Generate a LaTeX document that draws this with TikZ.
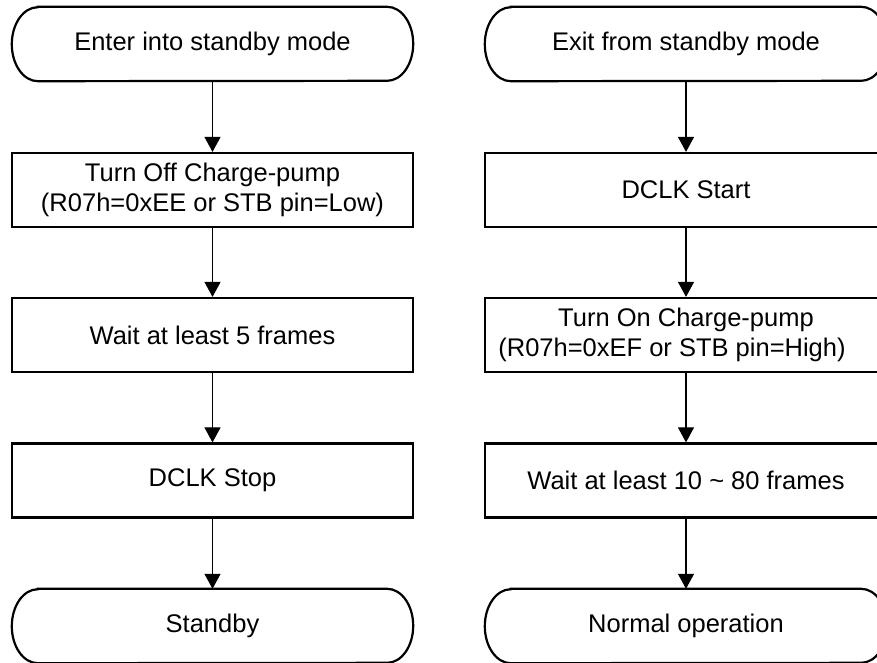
\documentclass[tikz,border=0pt]{standalone}
\usepackage{fontspec}
\setmainfont{Liberation Sans}
\usetikzlibrary{arrows.meta,positioning}
\tikzset{
  stepbox/.style={draw, line width=2.2pt, minimum width=401pt, minimum height=74pt, inner sep=0pt, align=center, font=\fontsize{25.5}{30.5}\selectfont},
  termnode/.style={minimum width=401pt, minimum height=74pt, inner sep=0pt, align=center, font=\fontsize{25.5}{30.5}\selectfont},
  flow/.style={line width=1.1pt, -{Triangle[length=15pt,width=16pt]}},
  termline/.style={line width=2.2pt}
}
\newcommand{\termshape}[1]{%
  \draw[termline] ([xshift=26pt]#1.north west) -- ([xshift=-26pt]#1.north east)
    arc[start angle=90,end angle=-90,x radius=26pt,y radius=37pt]
    -- ([xshift=26pt]#1.south west)
    arc[start angle=270,end angle=90,x radius=26pt,y radius=37pt] -- cycle;}
\begin{document}
\begin{tikzpicture}[x=1pt,y=-1pt]
\clip (0,0) rectangle (877,662);
\useasboundingbox (0,0) rectangle (877,662);
% left column
\node[termnode] (ls) at (212.5,44) {Enter into standby mode};
\termshape{ls}
\node[stepbox] (l1) at (212.5,190) {Turn Off Charge-pump\\(R07h=0xEE or STB pin=Low)};
\node[stepbox] (l2) at (212.5,335) {Wait at least 5 frames};
\node[stepbox] (l3) at (212.5,480.5) {DCLK Stop};
\node[termnode] (le) at (212.5,626) {Standby};
\termshape{le}
\draw[flow] (ls.south) -- (l1.north);
\draw[flow] (l1.south) -- (l2.north);
\draw[flow] (l2.south) -- (l3.north);
\draw[flow] (l3.south) -- (le.north);
% right column
\node[termnode, minimum width=402pt] (rs) at (686,44) {Exit from standby mode};
\termshape{rs}
\node[stepbox, minimum width=402pt] (r1) at (686,190) {DCLK Start};
\node[stepbox, minimum width=402pt] (r2) at (686,335) {Turn On Charge-pump\\\hspace*{-28pt}(R07h=0xEF or STB pin=High)};
\node[stepbox, minimum width=402pt] (r3) at (686,480.5) {Wait at least 10 \textasciitilde{} 80 frames};
\node[termnode, minimum width=402pt] (re) at (686,626) {Normal operation};
\termshape{re}
\draw[flow] (rs.south) -- (r1.north);
\draw[flow] (r1.south) -- (r2.north);
\draw[flow] (r2.south) -- (r3.north);
\draw[flow] (r3.south) -- (re.north);
\end{tikzpicture}
\end{document}
